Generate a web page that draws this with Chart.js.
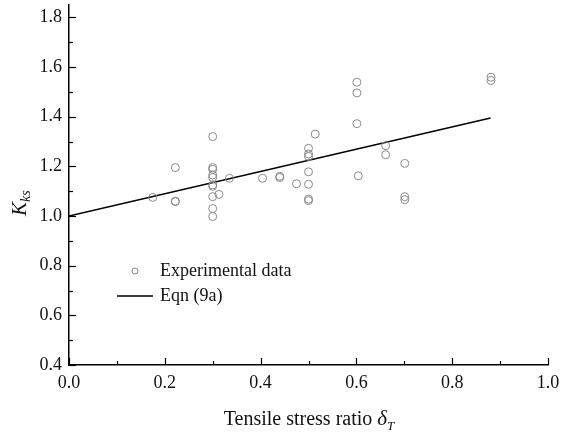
<!DOCTYPE html>
<html>
<head>
<meta charset="utf-8">
<script src="https://cdn.jsdelivr.net/npm/chart.js@4/dist/chart.umd.min.js"></script>
<style>
  html, body { margin: 0; padding: 0; background: #fff; }
  #wrap { width: 562px; height: 437px; }
</style>
</head>
<body>
<div id="wrap"><canvas id="chart"></canvas></div>
<script>
  // experimental points
  var expX = [0.175, 0.222, 0.222, 0.222, 0.3, 0.3, 0.3, 0.3, 0.3, 0.3, 0.3, 0.3, 0.3, 0.3,
    0.313, 0.335, 0.404, 0.44, 0.44, 0.475, 0.5, 0.5, 0.5, 0.5, 0.5, 0.5, 0.5, 0.514,
    0.601, 0.601, 0.601, 0.604, 0.661, 0.661, 0.701, 0.701, 0.701, 0.881, 0.881];
  var expY = [1.075, 1.195, 1.06, 1.058, 1.32, 1.195, 1.188, 1.165, 1.155, 1.125, 1.12, 1.078, 1.03, 0.998,
    1.087, 1.152, 1.152, 1.155, 1.16, 1.13, 1.273, 1.25, 1.24, 1.178, 1.128, 1.068, 1.062, 1.33,
    1.539, 1.496, 1.372, 1.162, 1.283, 1.247, 1.212, 1.078, 1.066, 1.559, 1.546];

  // Eqn (9a) line end points
  var eqnX = [0, 0.88];
  var eqnY = [1.0, 1.395];

  var xTicks = [0, 0.2, 0.4, 0.6, 0.8, 1.0];
  var yTicks = [0.4, 0.6, 0.8, 1.0, 1.2, 1.4, 1.6, 1.8];

  var serif = "'Liberation Serif', 'Times New Roman', serif";
  var pointGray = "#8a8a8a";

  function toXY(xs, ys) {
    return xs.map(function (x, i) { return { x: x, y: ys[i] }; });
  }

  // inward ticks, titles and the inset legend
  var decor = {
    id: "decor",
    afterDraw: function (chart) {
      var ctx = chart.ctx;
      var xs = chart.scales.x, ys = chart.scales.y;
      var a = chart.chartArea;
      ctx.save();
      ctx.strokeStyle = "#000";
      ctx.lineWidth = 1.2;
      var i, v, p, len;
      for (i = 0; i <= 10; i++) {
        v = i / 10;
        p = Math.round(xs.getPixelForValue(v)) + 0.5;
        len = i % 2 === 0 ? 7 : 4;
        ctx.beginPath(); ctx.moveTo(p, a.bottom); ctx.lineTo(p, a.bottom - len); ctx.stroke();
      }
      for (i = 4; i <= 18; i++) {
        v = i / 10;
        p = Math.round(ys.getPixelForValue(v)) + 0.5;
        len = i % 2 === 0 ? 7 : 4;
        ctx.beginPath(); ctx.moveTo(a.left, p); ctx.lineTo(a.left + len, p); ctx.stroke();
      }

      // legend
      ctx.fillStyle = "#111";
      ctx.textBaseline = "middle";
      ctx.font = "18px " + serif;
      ctx.strokeStyle = pointGray;
      ctx.lineWidth = 1;
      ctx.beginPath(); ctx.arc(135, 271, 3, 0, Math.PI * 2); ctx.stroke();
      ctx.fillText("Experimental data", 160, 271);
      ctx.strokeStyle = "#000";
      ctx.lineWidth = 1.5;
      ctx.beginPath(); ctx.moveTo(117, 296); ctx.lineTo(153, 296); ctx.stroke();
      ctx.fillText("Eqn (9a)", 160, 296);

      // x title
      ctx.textBaseline = "alphabetic";
      var main = "Tensile stress ratio ";
      ctx.font = "20px " + serif;
      var w1 = ctx.measureText(main).width;
      ctx.font = "italic 21px " + serif;
      var w2 = ctx.measureText("\u03b4").width;
      ctx.font = "italic 13px " + serif;
      var w3 = ctx.measureText("T").width;
      var x0 = 309 - (w1 + w2 + w3) / 2;
      ctx.font = "20px " + serif;
      ctx.fillText(main, x0, 425);
      ctx.font = "italic 21px " + serif;
      ctx.fillText("\u03b4", x0 + w1, 425);
      ctx.font = "italic 13px " + serif;
      ctx.fillText("T", x0 + w1 + w2, 430);

      // y title
      ctx.translate(26, 216);
      ctx.rotate(-Math.PI / 2);
      ctx.font = "italic 21px " + serif;
      ctx.fillText("K", 0, 0);
      var kw = ctx.measureText("K").width;
      ctx.font = "italic 14px " + serif;
      ctx.fillText("ks", kw, 4);
      ctx.restore();
    }
  };

  new Chart(document.getElementById("chart"), {
    type: "scatter",
    data: {
      datasets: [
        {
          label: "Experimental data",
          data: toXY(expX, expY),
          pointStyle: "circle",
          pointRadius: 4,
          pointBorderWidth: 1,
          pointBorderColor: pointGray,
          pointBackgroundColor: "rgba(0,0,0,0)",
          showLine: false
        },
        {
          label: "Eqn (9a)",
          data: toXY(eqnX, eqnY),
          showLine: true,
          borderColor: "#000",
          borderWidth: 1.5,
          pointRadius: 0
        }
      ]
    },
    options: {
      responsive: true,
      maintainAspectRatio: false,
      animation: false,
      layout: { padding: { left: 0, right: 14, top: 5, bottom: 0 } },
      plugins: { legend: { display: false }, tooltip: { enabled: false } },
      scales: {
        x: {
          type: "linear",
          min: 0,
          max: 1,
          afterBuildTicks: function (s) { s.ticks = xTicks.map(function (v) { return { value: v }; }); },
          afterFit: function (s) { s.height = 72; s.paddingLeft = 0; s.paddingRight = 0; },
          grid: { display: false, drawTicks: false },
          border: { display: true, color: "#000", width: 1.5 },
          ticks: {
            padding: 7,
            color: "#111",
            font: { family: serif, size: 18 },
            callback: function (v) { return v.toFixed(1); }
          }
        },
        y: {
          type: "linear",
          min: 0.4,
          max: 1.85,
          afterBuildTicks: function (s) { s.ticks = yTicks.map(function (v) { return { value: v }; }); },
          afterFit: function (s) { s.width = 69; s.paddingTop = 0; s.paddingBottom = 0; },
          grid: { display: false, drawTicks: false },
          border: { display: true, color: "#000", width: 1.5 },
          ticks: {
            padding: 7,
            color: "#111",
            font: { family: serif, size: 18 },
            callback: function (v) { return v.toFixed(1); }
          }
        }
      }
    },
    plugins: [decor]
  });
</script>
</body>
</html>
